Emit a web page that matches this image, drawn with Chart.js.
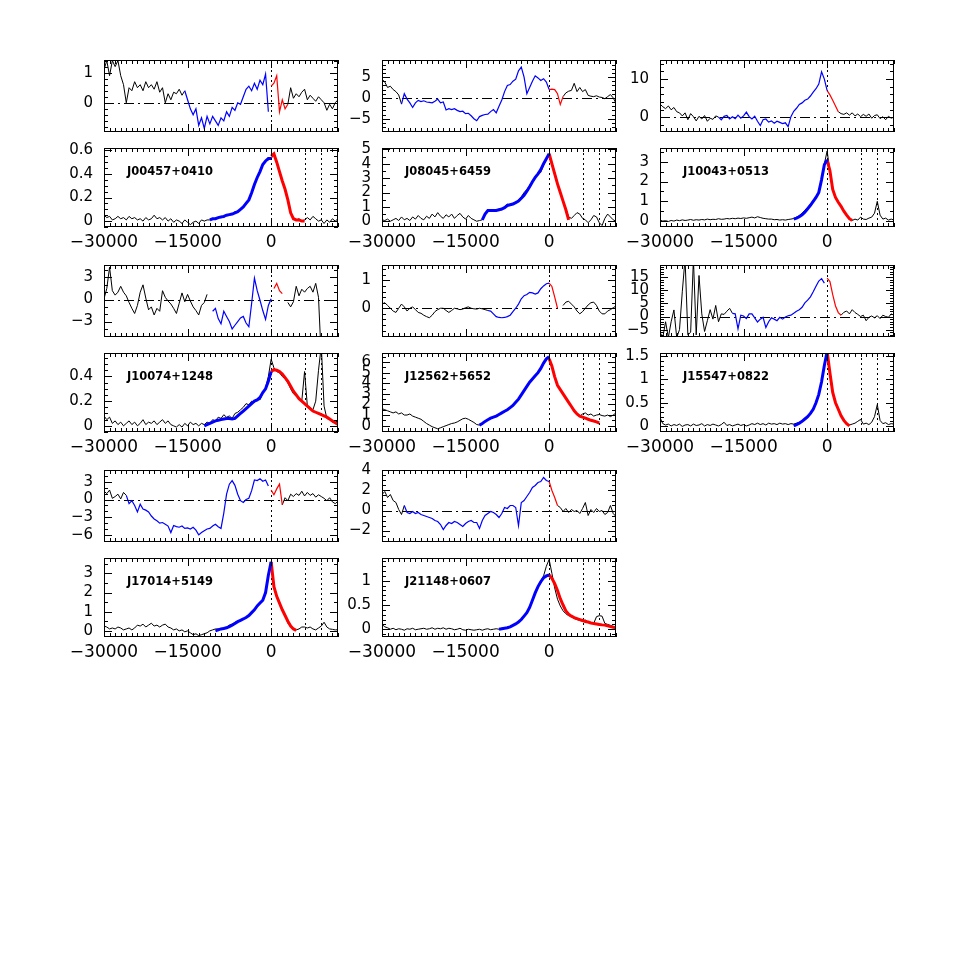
<!DOCTYPE html>
<html>
<head>
<meta charset="utf-8">
<script src="https://cdn.jsdelivr.net/npm/chart.js@4.4.0/dist/chart.umd.min.js"></script>
<style>
  html, body { margin: 0; padding: 0; background: #fff; }
  #wrap { position: relative; width: 959px; height: 959px; overflow: hidden; }
  #wrap canvas { position: absolute; }
</style>
</head>
<body>
<div id="wrap"></div>
<script>
// velocity grid, km/s
const vel = [
  -30000, -29500, -29000, -28500, -28000, -27500, -27000, -26500, -26000, -25500,
  -25000, -24500, -24000, -23500, -23000, -22500, -22000, -21500, -21000, -20500,
  -20000, -19500, -19000, -18500, -18000, -17500, -17000, -16500, -16000, -15500,
  -15000, -14500, -14000, -13500, -13000, -12500, -12000, -11500, -11000, -10500,
  -10000, -9500, -9000, -8500, -8000, -7500, -7000, -6500, -6000, -5500,
  -5000, -4500, -4000, -3500, -3000, -2500, -2000, -1500, -1000, -500,
  0, 500, 1000, 1500, 2000, 2500, 3000, 3500, 4000, 4500,
  5000, 5500, 6000, 6500, 7000, 7500, 8000, 8500, 9000, 9500,
  10000, 10500, 11000, 11500, 12000
];
const xTicks = [-30000, -15000, 0];
const lineVel = [0, 6040, 8990];   // dotted marker lines

// ---- J00457+0410
const resJ00457 = [
  1.1, 1.4, 0.9, 1.4, 1.2, 1.4, 0.9, 0.6, 0.0, 0.5,
  0.4, 0.7, 0.5, 0.6, 0.4, 0.7, 0.5, 0.6, 0.45, 0.7,
  0.35, 0.5, 0.0, 0.3, 0.1, 0.35, 0.3, 0.45, 0.25, 0.4,
  0.1, -0.2, -0.4, -0.2, -0.75, -0.5, -0.85, -0.45, -0.7, -0.45,
  -0.6, -0.75, -0.5, -0.6, -0.3, -0.45, -0.15, -0.25, 0.0, -0.05,
  0.2, 0.45, 0.55, 0.4, 0.65, 0.45, 0.75, 0.6, 0.95, -0.3,
  0.55, 0.65, 0.9, -0.3, 0.1, -0.2, -0.05, 0.5, 0.15, 0.3,
  0.2, 0.35, 0.45, 0.1, 0.25, 0.15, 0.05, 0.2, 0.1, 0.0,
  -0.25, -0.05, -0.2, 0.0, 0.1
];
const specJ00457 = [
  0.05, 0.03, 0.04, 0.01, 0.02, 0.04, 0.02, 0.03, 0.01, 0.04,
  0.02, 0.03, 0.01, 0.02, 0.0, 0.03, 0.01, 0.02, 0.05, 0.02,
  0.03, 0.01, 0.03, 0.0, 0.02, -0.01, 0.01, 0.0, -0.02, 0.01,
  -0.01, -0.03, -0.01, 0.0, -0.02, 0.01, 0.0, 0.01, 0.01, 0.02,
  0.02, 0.03, 0.04, 0.03, 0.05, 0.05, 0.06, 0.08, 0.08, 0.1,
  0.12, 0.15, 0.18, 0.24, 0.31, 0.37, 0.42, 0.48, 0.51, 0.52,
  0.53, 0.57, 0.5, 0.42, 0.34, 0.27, 0.18, 0.08, 0.03, 0.01,
  0.02, 0.0, 0.01, 0.03, 0.01, 0.04, 0.02, 0.0, 0.01, -0.02,
  0.01, -0.01, 0.02, 0.0, 0.02
];
const blueJ00457 = [0.01, 0.02, 0.02, 0.03, 0.035, 0.04, 0.05, 0.055, 0.06, 0.07, 0.08, 0.1, 0.12, 0.15, 0.18, 0.24, 0.31, 0.37, 0.42, 0.48, 0.51, 0.53, 0.53];
const redJ00457 = [0.55, 0.57, 0.5, 0.42, 0.34, 0.27, 0.18, 0.07, 0.02, 0.01, 0.01, 0.0, 0.0];

// ---- J08045+6459
const resJ08045 = [
  4.5, 3.8, 2.5, 2.8, 2.0, 1.5, 0.7, -1.5, 1.0, -0.3,
  -1.2, -2.3, -1.2, -0.6, -0.9, -0.7, -1.0, -1.1, -1.2, -0.8,
  -0.3, -1.2, -1.0, -2.9, -2.6, -2.8, -2.6, -3.0, -3.3, -3.2,
  -3.8, -3.7, -4.3, -5.0, -5.5, -4.5, -4.2, -4.0, -3.9, -3.3,
  -2.8, -3.6, -2.0, -0.5, 1.5, 3.0, 3.2, 4.0, 4.5, 6.5,
  7.4, 5.0, 1.0, 2.5, 4.0, 5.3, 4.8, 4.2, 4.6, 3.8,
  2.0, 2.1, 2.0, 1.0, -1.6, 0.3, 1.2, 1.6, 1.8, 3.5,
  1.5, 2.5, 1.5, 2.0, 0.6, 0.4, 0.3, 0.5, 0.2, 0.1,
  -0.2, 0.3, 0.8, 0.0, -1.3
];
const specJ08045 = [
  0.1, 0.05, 0.15, 0.0, 0.1, 0.2, 0.05, 0.3, 0.1, 0.2,
  0.05, 0.3, 0.15, 0.4, 0.2, 0.1, 0.35, 0.2, 0.5, 0.3,
  0.6, 0.35, 0.2, 0.45, 0.3, 0.5, 0.2, 0.4, 0.55, 0.3,
  0.15, 0.4, 0.2, 0.1, 0.0, 0.05, 0.1, 0.5, 0.75, 0.7,
  0.8, 0.75, 0.85, 0.8, 1.0, 1.2, 1.1, 1.25, 1.3, 1.5,
  1.7, 2.0, 2.2, 2.5, 2.8, 3.1, 3.3, 3.4, 3.9, 4.3,
  4.7, 4.1, 3.4, 2.7, 2.0, 1.4, 0.9, 0.3, 0.2, 0.4,
  0.6, 0.5, 0.2, 0.1, -0.1, 0.1, 0.4, 0.3, -0.1, -0.3,
  0.2, 0.5, 0.3, 0.1, 0.0
];
const blueJ08045 = [0.1, 0.5, 0.75, 0.75, 0.75, 0.75, 0.8, 0.85, 0.95, 1.1, 1.15, 1.2, 1.3, 1.4, 1.6, 1.8, 2.1, 2.4, 2.75, 3.05, 3.3, 3.6, 4.0, 4.35, 4.7];
const redJ08045 = [4.7, 4.0, 3.3, 2.6, 2.0, 1.4, 0.8, 0.1];

// ---- J10043+0513
const resJ10043 = [
  3.5, 2.8, 2.3, 3.0, 2.0, 2.6, 1.5, 1.2, 0.4, 1.2,
  -0.6, 1.0, 0.2, -0.9, 0.3, -0.4, 0.5, -1.0, -0.2, -0.5,
  0.4, 0.1, -0.6, 0.3, 0.5, -0.4, 0.2, -0.3, 0.6, -0.2,
  0.4, 1.4, 0.2, -0.4, 0.3, -1.0, -2.1, -0.6, -0.4, -1.2,
  -0.9, -1.5, -1.0, -1.3, -1.6, -1.4, -2.4, 0.2, 1.6, 2.4,
  3.4, 3.8, 4.5, 4.8, 5.6, 6.6, 7.5, 8.7, 11.9, 10.0,
  7.0, 5.9, 4.5, 3.0, 1.5, 1.0, 0.8, 1.2, 0.6, 1.2,
  0.4, 0.9, 0.2, 0.8, 0.3, 0.9, -0.2, 0.5, 0.7, -0.3,
  0.2, -0.6, 0.3, -0.2, 0.1
];
const specJ10043 = [
  0.05, 0.0, 0.02, -0.02, 0.03, 0.0, 0.05, 0.02, 0.06, 0.03,
  0.05, 0.08, 0.04, 0.07, 0.05, 0.08, 0.06, 0.1, 0.07, 0.09,
  0.08, 0.12, 0.09, 0.1, 0.13, 0.11, 0.14, 0.12, 0.15, 0.13,
  0.16, 0.14, 0.17, 0.2, 0.16, 0.22, 0.18, 0.14, 0.12, 0.1,
  0.1, 0.07, 0.08, 0.05, 0.07, 0.05, 0.08, 0.1, 0.13, 0.2,
  0.28, 0.4, 0.55, 0.7, 0.85, 1.05, 1.25, 1.5, 2.1, 2.9,
  3.55, 2.5, 1.6, 1.2, 0.95, 0.8, 0.5, 0.3, 0.1, 0.03,
  0.1, 0.05, 0.2, 0.1, 0.08, 0.15, 0.2, 0.4, 1.0, 0.3,
  0.1, 0.15, 0.05, 0.1, 0.05
];
const blueJ10043 = [0.1, 0.15, 0.22, 0.32, 0.45, 0.62, 0.8, 1.0, 1.2, 1.45, 2.1, 2.85, 3.1];
const redJ10043 = [3.1, 2.55, 1.6, 1.2, 0.95, 0.75, 0.5, 0.3, 0.12, 0.03];

// ---- J10074+1248
const resJ10074 = [
  0.1, 1.5, 4.4, 1.2, 0.6, 1.0, 1.8, 1.0, 0.5, -0.4,
  -1.2, -1.9, -0.8, 1.0, 2.0, 0.2, -1.4, -1.0, -2.1, -1.2,
  -1.6, 1.2, 0.3, -0.2, -0.6, -1.2, -1.9, -0.5, 0.9, -0.3,
  0.7, -0.2, -1.0, -1.5, -2.1, -0.8, -0.4, 0.7, null, -1.6,
  -1.2, -2.6, -3.3, -1.6, -2.3, -3.0, -4.0, -3.5, -3.0, -2.5,
  -2.3, -3.2, -3.7, -0.5, 2.9, 1.2, -0.1, -1.5, -2.7, -0.8,
  0.1, 1.5, 2.2, 1.2, 0.8, null, -0.4, -1.0, -0.3, 1.8,
  0.5, 1.4, 1.0, 1.5, 1.8, 1.0, 2.2, 0.3, -8, -8,
  -8, -8, -8, -8, -8
];
const specJ10074 = [
  0.08, 0.05, 0.07, 0.02, 0.04, 0.01, 0.03, 0.0, 0.02, 0.04,
  0.01, 0.03, 0.0, 0.02, 0.05, 0.01, 0.03, 0.02, 0.04, 0.01,
  0.03, 0.05, 0.02, 0.04, 0.01, 0.0, -0.01, 0.01, -0.01, 0.02,
  0.0, 0.03, 0.01, 0.02, 0.0, 0.02, 0.01, 0.03, 0.02, 0.05,
  0.04, 0.07, 0.06, 0.09, 0.07, 0.08, 0.06, 0.1, 0.11, 0.13,
  0.15, 0.18, 0.17, 0.2, 0.19, 0.22, 0.21, 0.27, 0.31, 0.4,
  0.54, 0.47, 0.44, 0.43, 0.4, 0.38, 0.35, 0.3, 0.26, 0.24,
  0.22, 0.2, 0.44, 0.16, 0.15, 0.13, 0.2, 0.45, 0.65, 0.16,
  0.06, 0.05, 0.03, 0.04, 0.03
];
const blueJ10074 = [0.0, 0.01, 0.02, 0.03, 0.04, 0.045, 0.05, 0.055, 0.06, 0.06, 0.055, 0.06, 0.08, 0.1, 0.12, 0.14, 0.16, 0.18, 0.2, 0.21, 0.23, 0.27, 0.3, 0.36, 0.44];
const redJ10074 = [0.44, 0.455, 0.45, 0.44, 0.42, 0.39, 0.36, 0.32, 0.28, 0.25, 0.22, 0.2, 0.18, 0.16, 0.14, 0.12, 0.11, 0.1, 0.09, 0.08, 0.07, 0.055, 0.04, 0.025, 0.012];

// ---- J12562+5652
const resJ12562 = [
  0.15, 0.2, 0.1, 0.0, -0.1, -0.15, 0.0, 0.15, 0.05, -0.1,
  0.0, 0.05, -0.05, -0.15, -0.18, -0.25, -0.3, -0.34, -0.25, -0.12,
  -0.05, 0.0, 0.0, -0.08, -0.15, -0.08, 0.0, -0.02, -0.05, -0.03,
  0.02, 0.05, 0.0, -0.02, -0.03, 0.0, -0.02, -0.05, -0.08, -0.1,
  -0.2, -0.3, -0.33, -0.34, -0.33, -0.3, -0.25, -0.12, 0.0, 0.15,
  0.34, 0.45, 0.49, 0.57, 0.55, 0.51, 0.55, 0.7, 0.8, 0.88,
  0.9, 0.78, 0.4, 0.0, null, 0.1, 0.22, 0.25, 0.15, 0.05,
  -0.1, -0.2, -0.12, 0.0, 0.12, 0.2, 0.22, 0.1, -0.1, -0.2,
  -0.2, -0.1, -0.05, 0.02, 0.08
];
const specJ12562 = [
  1.6, 1.5, 1.4, 1.3, 1.2, 1.3, 1.1, 1.2, 1.0, 1.0,
  1.1, 0.9, 0.8, 0.7, 0.6, 0.4, 0.2, 0.05, -0.1, -0.2,
  -0.3, -0.2, -0.1, 0.0, 0.1, 0.2, 0.25, 0.35, 0.5, 0.65,
  0.7, 0.6, 0.45, 0.3, 0.1, 0.05, 0.2, 0.4, 0.6, 0.7,
  0.8, 0.9, 1.1, 1.2, 1.3, 1.5, 1.7, 1.9, 2.2, 2.5,
  2.9, 3.3, 3.7, 4.1, 4.4, 4.7, 5.0, 5.4, 5.9, 6.3,
  6.4, 5.6, 4.6, 3.8, 3.4, 3.0, 2.6, 2.2, 1.8, 1.4,
  1.2, 0.9, 1.1, 1.2, 1.0, 1.1, 0.9, 1.0, 1.05, 0.95,
  0.9, 1.0, 0.85, 1.0, 1.2
];
const blueJ12562 = [0.05, 0.2, 0.4, 0.55, 0.7, 0.8, 0.9, 1.05, 1.2, 1.35, 1.5, 1.7, 1.9, 2.2, 2.5, 2.9, 3.3, 3.7, 4.1, 4.4, 4.7, 5.0, 5.4, 5.9, 6.3, 6.5];
const redJ12562 = [6.3, 5.6, 4.6, 3.8, 3.4, 3.0, 2.6, 2.2, 1.8, 1.4, 1.1, 0.9, 0.8, 0.7, 0.6, 0.5, 0.44, 0.35, 0.25];

// ---- J15547+0822
const resJ15547 = [
  -6, -8, -2, -8, -2, 2.5, -8, -5, 9.4, 22,
  -7, -6, 22, -7, 15.6, 1.0, -5.7, -1.6, 2.6, -1.0,
  4.2, -2.0, 1.0, 0.8, 2.0, 3.1, 1.2, 1.0, -4.7, 0.5,
  0.2, -0.8, 1.0, 1.0, -0.5, -2.1, -1.0, -0.3, -4.2, -2.0,
  -0.5, -1.0, -1.6, -0.3, -1.0, -0.2, 0.3, 0.5, 1.2, 2.0,
  2.6, 3.5, 5.2, 6.2, 7.5, 9.4, 11.5, 13.5, 14.4, 12.7,
  14.6, 13.3, 8.3, 4.0, 1.5, 0.5, 1.6, 2.1, 1.0, 2.6,
  1.5, 0.8, 0.0, 0.5, -1.6, -0.3, 0.2, -0.5, 0.3, -0.8,
  0.5, 0.0, -0.3, 1.0, 0.5
];
const specJ15547 = [
  0.18, 0.05, 0.02, 0.04, 0.0, 0.03, 0.01, 0.04, -0.01, 0.02,
  0.03, 0.0, 0.04, 0.01, 0.02, 0.05, 0.0, 0.03, 0.01, 0.04,
  0.02, 0.0, 0.03, 0.08, 0.01, 0.03, 0.0, 0.02, 0.04, 0.01,
  0.03, 0.0, 0.02, 0.05, 0.03, 0.06, 0.03, 0.05, 0.02, 0.06,
  0.04, 0.05, 0.03, 0.06, 0.04, 0.05, 0.03, 0.05, 0.04, 0.06,
  0.08, 0.1, 0.13, 0.18, 0.26, 0.36, 0.5, 0.68, 0.95, 1.3,
  1.55, 1.15, 0.72, 0.5, 0.36, 0.2, 0.12, 0.05, 0.02, 0.04,
  0.06, 0.1, 0.14, 0.04, 0.06, 0.03, 0.08, 0.2, 0.46, 0.12,
  0.05, 0.07, 0.03, 0.05, 0.04
];
const blueJ15547 = [0.0, 0.03, 0.06, 0.1, 0.15, 0.2, 0.27, 0.36, 0.5, 0.68, 0.95, 1.3, 1.6];
const redJ15547 = [1.6, 1.14, 0.72, 0.5, 0.36, 0.22, 0.12, 0.05, 0.0];

// ---- J17014+5149
const resJ17014 = [
  1.4, 1.0, 1.6, 0.2, 0.5, 0.9, 0.1, 1.2, 0.7, -0.7,
  -0.2, -1.0, -2.1, -0.8, -1.6, -1.8, -2.1, -2.8, -3.3, -3.6,
  -4.0, -3.9, -4.2, -4.5, -5.6, -4.4, -4.6, -4.7, -4.5, -4.9,
  -4.8, -5.0, -4.7, -5.2, -6.0, -5.6, -5.3, -5.0, -4.9, -4.5,
  -4.2, -4.6, -4.9, -2.3, 0.9, 2.6, 3.2, 2.4, 0.9, -0.2,
  -0.5, 0.0, 0.2, 1.5, 3.3, 3.2, 3.5, 3.1, 3.3, 2.3,
  1.6, 0.8, 1.8, 2.6, -0.9, 0.3, -0.2, 0.9, 0.5, 1.0,
  0.7, 1.4, 0.6, 1.2, 0.7, 1.0, 0.4, 0.8, 0.5, 0.2,
  -0.2, 0.3, -0.4, -0.7, -0.3
];
const specJ17014 = [
  0.25, 0.2, 0.1, 0.15, 0.1, 0.2, 0.15, 0.05, 0.1, 0.15,
  0.05, 0.15, 0.3, 0.25, 0.35, 0.2, 0.3, 0.4, 0.25, 0.3,
  0.2, 0.3, 0.35, 0.2, 0.15, 0.05, 0.1, 0.0, 0.05, -0.05,
  0.0, -0.1, -0.2, -0.15, -0.25, -0.2, -0.15, -0.1, 0.0, 0.05,
  0.1, 0.1, 0.12, 0.15, 0.2, 0.3, 0.35, 0.45, 0.5, 0.55,
  0.62, 0.7, 0.8, 0.95, 1.1, 1.3, 1.45, 1.6, 2.0, 2.9,
  3.6, 2.3, 1.8, 1.45, 1.1, 0.8, 0.4, 0.25, 0.1, 0.05,
  0.1, 0.2, 0.2, 0.15, 0.2, 0.1, 0.05, 0.15, 0.25, 0.45,
  0.2, 0.1, 0.08, 0.05, 0.06
];
const blueJ17014 = [0.0, 0.05, 0.1, 0.12, 0.16, 0.22, 0.3, 0.38, 0.48, 0.55, 0.62, 0.7, 0.8, 0.95, 1.1, 1.3, 1.45, 1.6, 2.0, 2.9, 3.6];
const redJ17014 = [3.6, 2.3, 1.8, 1.45, 1.1, 0.8, 0.5, 0.25, 0.1, 0.03];

// ---- J21148+0607
const resJ21148 = [
  1.6, 1.9, 1.3, 1.6, 1.0, 0.8, 0.1, -0.4, 0.5, -0.2,
  -0.3, -0.1, -0.3, -0.2, -0.4, -0.5, -0.6, -0.7, -0.8, -1.0,
  -1.1, -1.4, -1.9, -1.5, -1.2, -1.3, -1.1, -1.2, -1.4, -1.6,
  -1.3, -1.1, -1.0, -1.2, -1.2, -1.8, -1.0, -0.5, -0.3, -0.1,
  -0.2, -0.4, -0.7, -0.3, 0.3, 0.2, 0.5, 0.5, 0.3, -1.5,
  0.8, 1.0, 1.4, 1.8, 2.3, 2.5, 2.8, 2.9, 3.3, 3.0,
  2.9, 2.0, 1.3, 0.5, 0.3, -0.1, 0.2, -0.2, 0.1, -0.1,
  0.0, -0.3, 0.2, 0.8, -0.5, 0.1, -0.2, 0.2, -0.1, 0.0,
  -0.4, -0.2, 0.5, -0.3, -0.6
];
const specJ21148 = [
  0.1, 0.05, 0.03, 0.0, 0.02, -0.01, 0.01, 0.0, -0.02, 0.01,
  0.0, 0.02, -0.01, 0.0, 0.01, 0.02, 0.0, 0.01, 0.03, 0.0,
  0.02, 0.01, 0.03, 0.0, 0.02, 0.01, -0.01, 0.0, 0.02, -0.01,
  -0.02, 0.0, -0.01, -0.02, -0.01, 0.0, -0.02, 0.0, 0.01, -0.01,
  0.0, 0.01, 0.0, 0.02, 0.03, 0.04, 0.06, 0.08, 0.12, 0.16,
  0.22, 0.28, 0.34, 0.45, 0.6, 0.75, 0.88, 1.0, 1.1, 1.3,
  1.44, 1.15, 0.85, 0.62, 0.48, 0.38, 0.32, 0.28, 0.26, 0.22,
  0.2, 0.18, 0.17, 0.19, 0.15, 0.13, 0.12, 0.26, 0.28, 0.27,
  0.12, 0.1, 0.08, 0.06, 0.05
];
const blueJ21148 = [0.0, 0.01, 0.02, 0.03, 0.05, 0.08, 0.11, 0.15, 0.2, 0.27, 0.34, 0.45, 0.6, 0.75, 0.88, 0.98, 1.06, 1.1, 1.12];
const redJ21148 = [1.12, 1.05, 0.94, 0.8, 0.63, 0.5, 0.38, 0.31, 0.27, 0.24, 0.22, 0.2, 0.18, 0.16, 0.15, 0.13, 0.12, 0.11, 0.1, 0.09, 0.085, 0.07, 0.055, 0.04, 0.03];

// y tick labels
const tkTop1 = [0, 1],            tkBot1 = [0, 0.2, 0.4, 0.6];
const tkTop2 = [-5, 0, 5],        tkBot2 = [0, 1, 2, 3, 4, 5];
const tkTop3 = [0, 10],           tkBot3 = [0, 1, 2, 3];
const tkTop4 = [-3, 0, 3],        tkBot4 = [0, 0.2, 0.4];
const tkTop5 = [0, 1],            tkBot5 = [0, 1, 2, 3, 4, 5, 6];
const tkTop6 = [-5, 0, 5, 10, 15], tkBot6 = [0, 0.5, 1, 1.5];
const tkTop7 = [-6, -3, 0, 3],    tkBot7 = [0, 1, 2, 3];
const tkTop8 = [-2, 0, 2, 4],     tkBot8 = [0, 0.5, 1];

const panels = [
  { name: 'J00457+0410', res: resJ00457, bTop: [-15500, -500], rTop: [0, 3000], spec: specJ00457,
    blue: { from: -11000, y: blueJ00457 }, red: { from: 0, y: redJ00457 },
    top: { min: -0.97, max: 1.42, ticks: tkTop1, minor: 0.2 }, bot: { min: -0.05, max: 0.62, ticks: tkBot1, minor: 0.05 } },
  { name: 'J08045+6459', res: resJ08045, bTop: [-26500, 0], rTop: [0, 2500], spec: specJ08045,
    blue: { from: -12000, y: blueJ08045 }, red: { from: 0, y: redJ08045 },
    top: { min: -8.2, max: 9.1, ticks: tkTop2, minor: 1 }, bot: { min: -0.4, max: 5.1, ticks: tkBot2, minor: 0.5 } },
  { name: 'J10043+0513', res: resJ10043, bTop: [-19500, 0], rTop: [0, 2000], spec: specJ10043,
    blue: { from: -6000, y: blueJ10043 }, red: { from: 0, y: redJ10043 },
    top: { min: -3.8, max: 15, ticks: tkTop3, minor: 2 }, bot: { min: -0.3, max: 3.7, ticks: tkBot3, minor: 0.5 } },
  { name: 'J10074+1248', res: resJ10074, bTop: [-10500, 0], rTop: [500, 2000], spec: specJ10074,
    blue: { from: -12000, y: blueJ10074 }, red: { from: 0, y: redJ10074 },
    top: { min: -5.1, max: 4.7, ticks: tkTop4, minor: 1 }, bot: { min: -0.05, max: 0.59, ticks: tkBot4, minor: 0.05 } },
  { name: 'J12562+5652', res: resJ12562, bTop: [-11000, 0], rTop: [0, 1500], spec: specJ12562,
    blue: { from: -12500, y: blueJ12562 }, red: { from: 0, y: redJ12562 },
    top: { min: -1.03, max: 1.55, ticks: tkTop5, minor: 0.2 }, bot: { min: -0.6, max: 6.85, ticks: tkBot5, minor: 0.5 } },
  { name: 'J15547+0822', res: resJ15547, bTop: [-17000, -500], rTop: [0, 2500], spec: specJ15547,
    blue: { from: -6000, y: blueJ15547 }, red: { from: 0, y: redJ15547 },
    top: { min: -7.8, max: 19.6, ticks: tkTop6, minor: 1 }, bot: { min: -0.13, max: 1.57, ticks: tkBot6, minor: 0.1 } },
  { name: 'J17014+5149', res: resJ17014, bTop: [-26000, -500], rTop: [0, 2000], spec: specJ17014,
    blue: { from: -10000, y: blueJ17014 }, red: { from: 0, y: redJ17014 },
    top: { min: -7.2, max: 5.0, ticks: tkTop7, minor: 1 }, bot: { min: -0.32, max: 3.8, ticks: tkBot7, minor: 0.5 } },
  { name: 'J21148+0607', res: resJ21148, bTop: [-26000, 0], rTop: [0, 1500], spec: specJ21148,
    blue: { from: -9000, y: blueJ21148 }, red: { from: 0, y: redJ21148 },
    top: { min: -3.15, max: 4.05, ticks: tkTop8, minor: 0.5 }, bot: { min: -0.16, max: 1.47, ticks: tkBot8, minor: 0.1 } }
];

// page layout (pixels)
const colLeft = [104, 382, 660];
const rowTop = [52, 257, 462];
const plotW = 234, topH = 88, botH = 87;

Chart.defaults.color = '#000';
Chart.defaults.font.family = '"DejaVu Sans", "Liberation Sans", sans-serif';

const fmt = v => (v < 0 ? '\u2212' + Math.abs(v) : String(v));

// box, inward ticks, marker lines and the object name
const frame = {
  id: 'frame',
  beforeDatasetsDraw(chart, args, o) {
    const { ctx, chartArea: a, scales: { x, y } } = chart;
    ctx.save();
    ctx.strokeStyle = '#000';
    ctx.lineWidth = 1;
    ctx.setLineDash([2, 3]);
    ctx.beginPath();
    o.vlines.forEach(v => {
      const px = Math.round(x.getPixelForValue(v)) + 0.5;
      ctx.moveTo(px, a.top);
      ctx.lineTo(px, a.bottom);
    });
    ctx.stroke();
    if (o.zero) {
      const py = Math.round(y.getPixelForValue(0)) + 0.5;
      ctx.setLineDash([10, 4, 2, 4]);
      ctx.beginPath();
      ctx.moveTo(a.left, py);
      ctx.lineTo(a.right, py);
      ctx.stroke();
    }
    ctx.restore();
  },
  afterDatasetsDraw(chart, args, o) {
    const { ctx, chartArea: a, scales: { x, y } } = chart;
    ctx.save();
    ctx.strokeStyle = '#000';
    ctx.lineWidth = 1;
    ctx.setLineDash([]);
    ctx.strokeRect(a.left + 0.5, a.top + 0.5, a.right - a.left - 1, a.bottom - a.top - 1);
    ctx.beginPath();
    for (let k = Math.ceil(x.min / 1000); k <= Math.floor(x.max / 1000); k++) {
      const v = k * 1000;
      const px = Math.round(x.getPixelForValue(v)) + 0.5;
      const len = xTicks.includes(v) ? 8 : 4;
      ctx.moveTo(px, a.top); ctx.lineTo(px, a.top + len);
      ctx.moveTo(px, a.bottom); ctx.lineTo(px, a.bottom - len);
    }
    const st = o.minor;
    for (let k = Math.ceil(y.min / st - 1e-6); k <= Math.floor(y.max / st + 1e-6); k++) {
      const v = k * st;
      const py = Math.round(y.getPixelForValue(v)) + 0.5;
      const len = o.ticks.some(t => Math.abs(t - v) < st / 10) ? 8 : 4;
      ctx.moveTo(a.left, py); ctx.lineTo(a.left + len, py);
      ctx.moveTo(a.right, py); ctx.lineTo(a.right - len, py);
    }
    ctx.stroke();
    if (o.name) {
      ctx.fillStyle = '#000';
      ctx.font = 'bold 11.5px "DejaVu Sans", sans-serif';
      ctx.textBaseline = 'middle';
      ctx.fillText(o.name, a.left + 23, a.top + 24);
    }
    ctx.restore();
  }
};

const wrap = document.getElementById('wrap');

function addChart(left, top, h, withX, yAxis, datasets, extra) {
  const padT = 12, padR = 12, yW = 60;
  const xH = withX ? 30 : 0, padB = withX ? 4 : 12;
  const W = yW + plotW + padR, H = padT + h + xH + padB;
  const cv = document.createElement('canvas');
  cv.width = W; cv.height = H;
  cv.style.left = (left - yW) + 'px';
  cv.style.top = (top - padT) + 'px';
  cv.style.width = W + 'px';
  cv.style.height = H + 'px';
  wrap.appendChild(cv);

  new Chart(cv, {
    type: 'line',
    data: { datasets },
    options: {
      responsive: false,
      animation: false,
      devicePixelRatio: 1,
      layout: { padding: { top: padT, right: padR, bottom: padB, left: 0 } },
      elements: { point: { radius: 0 }, line: { tension: 0 } },
      plugins: {
        legend: { display: false },
        tooltip: { enabled: false },
        frame: Object.assign({ ticks: yAxis.ticks, minor: yAxis.minor }, extra)
      },
      scales: {
        x: {
          type: 'linear', min: -30000, max: 12000,
          grid: { display: false, drawTicks: false },
          border: { display: false },
          ticks: { display: withX, padding: 5, autoSkip: false, maxRotation: 0, font: { size: 17 }, callback: fmt },
          afterBuildTicks: s => { s.ticks = xTicks.map(v => ({ value: v })); },
          afterFit: s => { s.height = xH; }
        },
        y: {
          min: yAxis.min, max: yAxis.max,
          grid: { display: false, drawTicks: false },
          border: { display: false },
          ticks: { padding: 11, autoSkip: false, font: { size: 15 }, callback: fmt },
          afterBuildTicks: s => { s.ticks = yAxis.ticks.map(v => ({ value: v })); },
          afterFit: s => { s.width = yW; }
        }
      }
    },
    plugins: [frame]
  });
}

function line(points, color, width, order) {
  return { data: points, borderColor: color, borderWidth: width, pointRadius: 0, fill: false, spanGaps: false, order };
}

panels.forEach((p, n) => {
  const left = colLeft[n % 3], top = rowTop[Math.floor(n / 3)];

  // residual panel: black outside the fitted wings, blue and red inside
  const b0 = vel.indexOf(p.bTop[0]), b1 = vel.indexOf(p.bTop[1]);
  const r0 = vel.indexOf(p.rTop[0]), r1 = vel.indexOf(p.rTop[1]);
  const blackRes = p.res.map((y, i) => ({ x: vel[i], y: (i <= b0 || i >= r1) ? y : null }));
  const blueRes = p.res.slice(b0, b1 + 1).map((y, k) => ({ x: vel[b0 + k], y }));
  const redRes = p.res.slice(r0, r1 + 1).map((y, k) => ({ x: vel[r0 + k], y }));
  addChart(left, top, topH, false, p.top, [
    line(blueRes, '#0000ff', 1.2, 1),
    line(redRes, '#ff0000', 1.2, 1),
    line(blackRes, '#000000', 1, 2)
  ], { vlines: [0], zero: true });

  // profile panel: spectrum plus the two fitted wings
  const spec = p.spec.map((y, i) => ({ x: vel[i], y }));
  const fit = f => { const s = vel.indexOf(f.from); return f.y.map((y, k) => ({ x: vel[s + k], y })); };
  addChart(left, top + topH, botH, true, p.bot, [
    line(fit(p.blue), '#0000ff', 3, 1),
    line(fit(p.red), '#ff0000', 3, 1),
    line(spec, '#000000', 1, 2)
  ], { vlines: lineVel, zero: false, name: p.name });
});
</script>
</body>
</html>
